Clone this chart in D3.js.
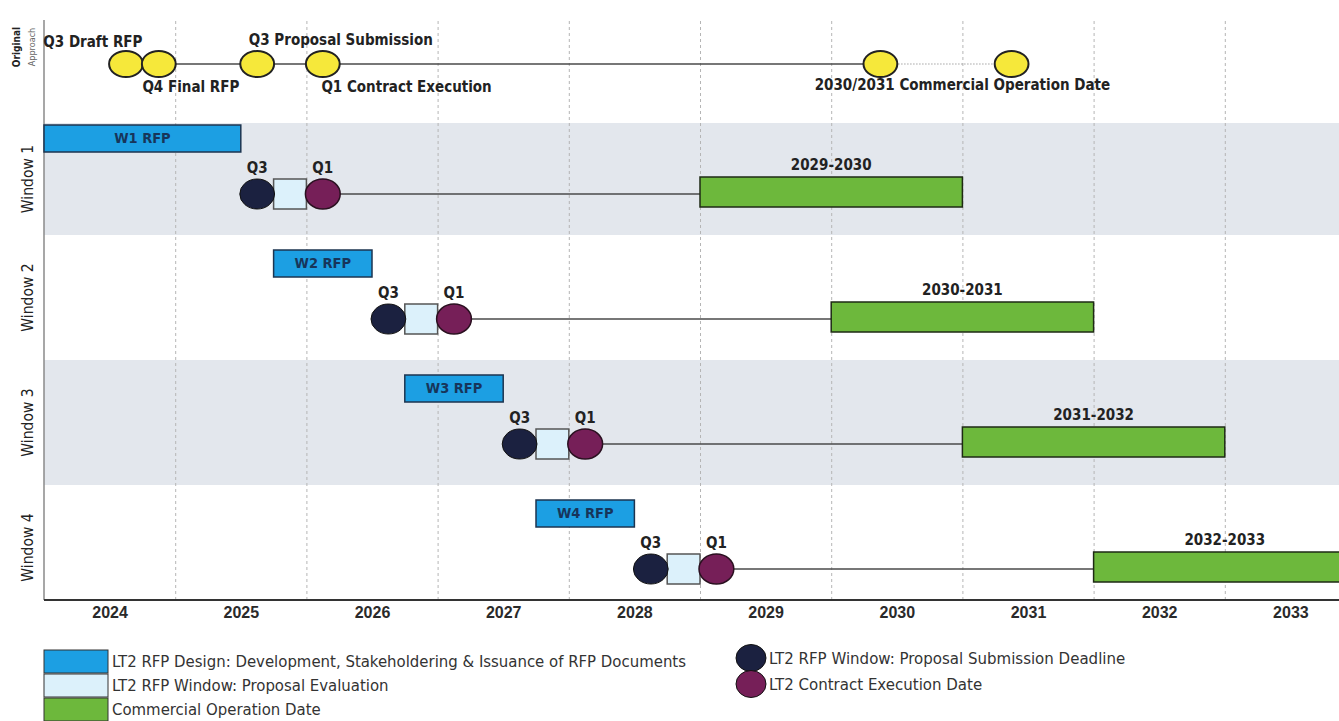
<!DOCTYPE html>
<html>
<head>
<meta charset="utf-8">
<script src="https://cdn.jsdelivr.net/npm/d3@7"></script>
<style>
  body { margin: 0; background: #fff; }
  svg { display: block; font-family: "DejaVu Sans Condensed", "Liberation Sans", sans-serif; }
</style>
</head>
<body>
<div class="js-chart"></div>
<script>
'use strict';

//timeline data (years as decimals, quarters = .25)
var years = [2024, 2025, 2026, 2027, 2028, 2029, 2030, 2031, 2032, 2033];
var windows = ['Window 1', 'Window 2', 'Window 3', 'Window 4'];
var rfpLabels = ['W1 RFP', 'W2 RFP', 'W3 RFP', 'W4 RFP'];
var rfpStart = [2024.0, 2025.75, 2026.75, 2027.75];
var rfpEnd = [2025.5, 2026.5, 2027.5, 2028.5];
var submissionQ = [2025.5, 2026.5, 2027.5, 2028.5];
var evaluationQ = [2025.75, 2026.75, 2027.75, 2028.75];
var executionQ = [2026.0, 2027.0, 2028.0, 2029.0];
var codStart = [2029, 2030, 2031, 2032];
var codEnd = [2031, 2032, 2033, 2034];
var codLabels = ['2029-2030', '2030-2031', '2031-2032', '2032-2033'];

//original approach milestones
var origQ = [2024.5, 2024.75, 2025.5, 2026.0, 2030.25, 2031.25];
var origLabels = ['Q3 Draft RFP', 'Q4 Final RFP', 'Q3 Proposal Submission', 'Q1 Contract Execution',
    '2030/2031 Commercial Operation Date'];

var legendBoxes = ['LT2 RFP Design:  Development, Stakeholdering & Issuance of RFP Documents',
    'LT2 RFP Window: Proposal Evaluation', 'Commercial Operation Date'];
var legendDots = ['LT2 RFP Window: Proposal Submission Deadline', 'LT2 Contract Execution Date'];

var C = {
    blue: '#1c9fe3', pale: '#dcf1fb', green: '#6db83c',
    navy: '#1b2140', purple: '#761f58', yellow: '#f6e83a',
    band: '#e3e7ed', ink: '#222', line: '#4a4a4a'
};

var W = 1339, H = 721;
var svg = d3.select('.js-chart').append('svg').attr('width', W).attr('height', H);

var x = d3.scaleLinear().domain([2024, 2034]).range([44, 1356]);
var y = d3.scaleBand().domain(windows).range([110, 610]);
var qw = x(2024.25) - x(2024);
var axisY = 600, topY = 20;

//shaded bands for window 1 & 3
svg.selectAll('.js-band').data(['Window 1', 'Window 3']).enter().append('rect')
    .attr('class', 'js-band')
    .attr('x', x(2024)).attr('width', W - x(2024))
    .attr('y', function (d) { return Math.max(y(d), 123); })
    .attr('height', function (d) { return y(d) + y.bandwidth() - Math.max(y(d), 123); })
    .style('fill', C.band);

//dashed year gridlines
svg.append('g')
    .attr('transform', 'translate(0,' + axisY + ')')
    .call(d3.axisBottom(x).tickValues(years.slice(1)).tickSize(-(axisY - topY)).tickFormat(''))
    .call(function (g) {
        g.select('.domain').remove();
        g.selectAll('line').style('stroke', '#b5b5b5').style('stroke-dasharray', '3,3');
    });

//left axis line
svg.append('line').attr('x1', x(2024)).attr('x2', x(2024)).attr('y1', topY).attr('y2', axisY)
    .style('stroke', '#8a8a8a').style('stroke-width', 1.5);

//bottom axis with year labels centred in each year
svg.append('g')
    .attr('transform', 'translate(0,' + axisY + ')')
    .call(d3.axisBottom(x).tickValues(years.map(function (d) { return d + 0.5; }))
        .tickSize(0).tickPadding(7).tickFormat(function (d) { return Math.floor(d); }))
    .call(function (g) {
        g.select('.domain').attr('d', 'M' + x(2024) + ',0H' + W).style('stroke', '#333').style('stroke-width', 2);
        g.selectAll('text').style('font-family', 'inherit').style('font-size', '16px')
            .style('font-weight', 'bold').style('fill', '#2a2a2a');
    });

//row labels
svg.append('text').text('Original')
    .attr('transform', 'translate(20,47) rotate(-90)')
    .attr('text-anchor', 'middle').style('font-size', '10px').style('font-weight', 'bold').style('fill', C.ink);
svg.append('text').text('Approach')
    .attr('transform', 'translate(35,47) rotate(-90)')
    .attr('text-anchor', 'middle').style('font-size', '9px').style('fill', '#666');
svg.selectAll('.js-row').data(windows).enter().append('text')
    .attr('class', 'js-row')
    .text(function (d) { return d; })
    .attr('transform', function (d) {
        var top = Math.max(y(d), 123);
        return 'translate(33,' + (top + y(d) + y.bandwidth()) / 2 + ') rotate(-90)';
    })
    .attr('text-anchor', 'middle').style('font-size', '15.5px').style('fill', C.ink);

//original approach
var oy = 64;
svg.append('line').attr('x1', x(origQ[0] + 0.125)).attr('x2', x(origQ[4] + 0.125))
    .attr('y1', oy).attr('y2', oy).style('stroke', C.line).style('stroke-width', 1.5);
svg.append('line').attr('x1', x(origQ[4] + 0.125)).attr('x2', x(origQ[5] + 0.125))
    .attr('y1', oy).attr('y2', oy).style('stroke', '#777').style('stroke-width', 1.2)
    .style('stroke-dasharray', '1,2');
svg.selectAll('.js-orig').data(origQ).enter().append('ellipse')
    .attr('class', 'js-orig')
    .attr('cx', function (d) { return x(d + 0.125); }).attr('cy', oy)
    .attr('rx', qw / 2 + 0.5).attr('ry', 13)
    .style('fill', C.yellow).style('stroke', '#222').style('stroke-width', 2);

var origText = [
    { x: x(origQ[0] + 0.25), y: 47, a: 'end' },
    { x: x(origQ[1]), y: 92, a: 'start' },
    { x: x(origQ[2]) + 8, y: 45, a: 'start' },
    { x: x(origQ[3]) + 15, y: 92, a: 'start' },
    { x: x(2031), y: 90, a: 'middle' }
];
svg.selectAll('.js-orig-t').data(origLabels).enter().append('text')
    .attr('class', 'js-orig-t')
    .text(function (d) { return d; })
    .attr('x', function (d, i) { return origText[i].x; })
    .attr('y', function (d, i) { return origText[i].y; })
    .attr('text-anchor', function (d, i) { return origText[i].a; })
    .style('font-size', '15px').style('font-weight', 'bold').style('fill', C.ink);

//window rows
var rows = svg.selectAll('.js-win').data(windows).enter().append('g')
    .attr('class', 'js-win')
    .attr('transform', function (d) { return 'translate(0,' + y(d) + ')'; });

var my = 84;

//connector line from contract execution to COD
rows.append('line')
    .attr('x1', function (d, i) { return x(executionQ[i] + 0.125); })
    .attr('x2', function (d, i) { return x(codStart[i]); })
    .attr('y1', my).attr('y2', my)
    .style('stroke', C.line).style('stroke-width', 1.5);

//RFP design bars
rows.append('rect')
    .attr('x', function (d, i) { return x(rfpStart[i]); })
    .attr('width', function (d, i) { return x(rfpEnd[i]) - x(rfpStart[i]); })
    .attr('y', 15).attr('height', 27)
    .style('fill', C.blue).style('stroke', '#1d3550').style('stroke-width', 1.5);
rows.append('text')
    .text(function (d, i) { return rfpLabels[i]; })
    .attr('x', function (d, i) { return (x(rfpStart[i]) + x(rfpEnd[i])) / 2; })
    .attr('y', 33).attr('text-anchor', 'middle')
    .style('font-size', '14.5px').style('font-weight', 'bold').style('fill', '#17355a');

//evaluation square
rows.append('rect')
    .attr('x', function (d, i) { return x(evaluationQ[i]); })
    .attr('width', qw).attr('y', my - 15).attr('height', 30)
    .style('fill', C.pale).style('stroke', '#555').style('stroke-width', 1.5);

//submission & execution circles
rows.append('ellipse')
    .attr('cx', function (d, i) { return x(submissionQ[i] + 0.125); })
    .attr('cy', my).attr('rx', qw / 2 + 1).attr('ry', 15)
    .style('fill', C.navy).style('stroke', '#111').style('stroke-width', 1);
rows.append('ellipse')
    .attr('cx', function (d, i) { return x(executionQ[i] + 0.125); })
    .attr('cy', my).attr('rx', qw / 2 + 1).attr('ry', 15)
    .style('fill', C.purple).style('stroke', '#2a1020').style('stroke-width', 1.5);

rows.append('text').text('Q3')
    .attr('x', function (d, i) { return x(submissionQ[i] + 0.125); })
    .attr('y', my - 21).attr('text-anchor', 'middle')
    .style('font-size', '15px').style('font-weight', 'bold').style('fill', C.ink);
rows.append('text').text('Q1')
    .attr('x', function (d, i) { return x(executionQ[i] + 0.125); })
    .attr('y', my - 21).attr('text-anchor', 'middle')
    .style('font-size', '15px').style('font-weight', 'bold').style('fill', C.ink);

//commercial operation bars
rows.append('rect')
    .attr('x', function (d, i) { return x(codStart[i]); })
    .attr('width', function (d, i) { return Math.min(x(codEnd[i]), W + 2) - x(codStart[i]); })
    .attr('y', 67).attr('height', 30)
    .style('fill', C.green).style('stroke', '#1e2a14').style('stroke-width', 1.5);
rows.append('text')
    .text(function (d, i) { return codLabels[i]; })
    .attr('x', function (d, i) { return (x(codStart[i]) + x(codEnd[i])) / 2; })
    .attr('y', 60).attr('text-anchor', 'middle')
    .style('font-size', '15px').style('font-weight', 'bold').style('fill', C.ink);

//legend
var lg = svg.append('g').attr('class', 'js-legend');
var boxColors = [C.blue, C.pale, C.green];
lg.selectAll('rect').data(legendBoxes).enter().append('rect')
    .attr('x', 44).attr('y', function (d, i) { return 650 + i * 24; })
    .attr('width', 64).attr('height', 23)
    .style('fill', function (d, i) { return boxColors[i]; })
    .style('stroke', '#333').style('stroke-width', 1);
lg.selectAll('.js-lb').data(legendBoxes).enter().append('text')
    .attr('class', 'js-lb')
    .text(function (d) { return d; })
    .attr('x', 112).attr('y', function (d, i) { return 667 + i * 24; })
    .style('font-size', '16.6px').style('fill', '#333');

var dotColors = [C.navy, C.purple];
lg.selectAll('circle').data(legendDots).enter().append('ellipse')
    .attr('cx', 751).attr('cy', function (d, i) { return 658 + i * 26; })
    .attr('rx', 15).attr('ry', 13.5)
    .style('fill', function (d, i) { return dotColors[i]; })
    .style('stroke', '#111').style('stroke-width', 1);
lg.selectAll('.js-ld').data(legendDots).enter().append('text')
    .attr('class', 'js-ld')
    .text(function (d) { return d; })
    .attr('x', 769).attr('y', function (d, i) { return 664 + i * 26; })
    .style('font-size', '16.7px').style('fill', '#333');
</script>
</body>
</html>
